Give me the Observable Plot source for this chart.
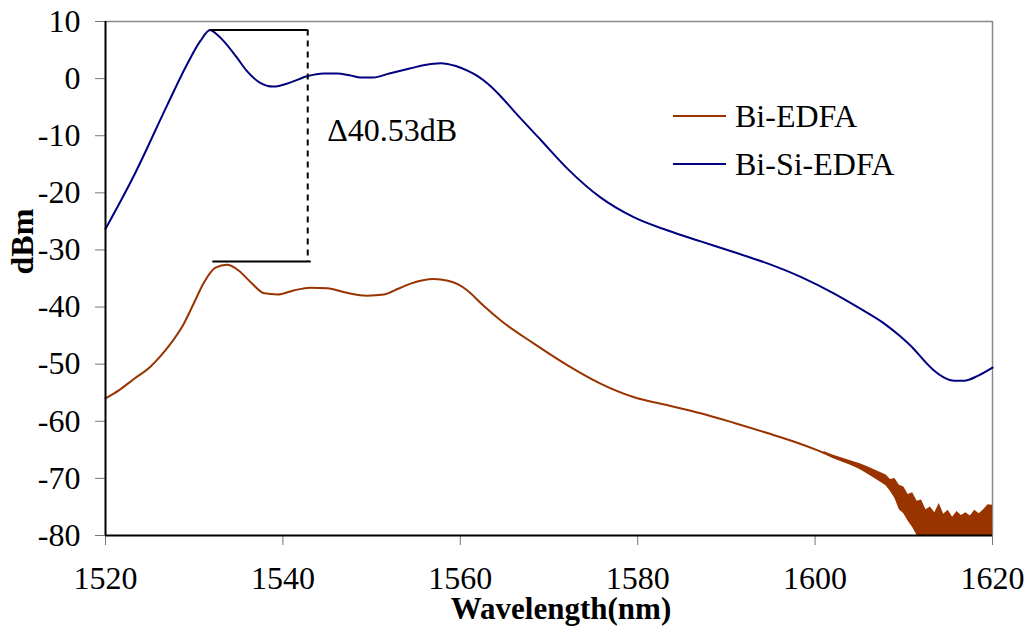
<!DOCTYPE html>
<html>
<head>
<meta charset="utf-8">
<script src="https://cdn.jsdelivr.net/npm/d3@7"></script>
<script src="https://cdn.jsdelivr.net/npm/@observablehq/plot@0.6"></script>
<style>
  body { margin: 0; background: #fff; }
  #wrap { position: relative; width: 1031px; height: 628px; font-family: "Liberation Serif", "DejaVu Serif", serif; }
  #wrap svg, #wrap svg text { font-family: "Liberation Serif", "DejaVu Serif", serif !important; }
  #legend { position: absolute; left: 673px; top: 92px; }
  .row { display: flex; align-items: center; height: 48px; }
  .swatch { width: 53px; height: 0; border-top: 2px solid; }
  .label { margin-left: 9px; font-size: 32px; color: #000; line-height: 1; font-family: "Liberation Serif", "DejaVu Serif", serif; }
</style>
</head>
<body>
<div id="wrap"><div id="legend"></div></div>
<script>
// Axis ticks
const wavelengthTicks = [1520, 1540, 1560, 1580, 1600, 1620];
const dbmTicks = [-80, -70, -60, -50, -40, -30, -20, -10, 0, 10];

// Series
const seriesNames = ["Bi-EDFA", "Bi-Si-EDFA"];
const seriesColors = ["#993300", "#000080"];

// Bi-Si-EDFA spectrum
const biSiWl = [1520, 1523.2, 1527.0, 1529.2, 1530.7, 1531.8, 1532.5, 1533.3, 1534.8, 1535.9, 1537.4, 1538.9, 1540.8, 1542.7, 1544.6, 1546.1, 1547.5, 1548.8, 1550.2, 1552.0, 1554.4, 1556.0, 1557.8, 1559.5, 1560.8, 1562.0, 1563.1, 1564.5, 1566.0, 1569.1, 1572.1, 1575.8, 1579.6, 1583.4, 1587.1, 1590.9, 1594.7, 1598.5, 1602.1, 1605.0, 1607.8, 1609.5, 1611.1, 1612.3, 1613.4, 1614.5, 1615.7, 1616.8, 1618.4, 1620];
const biSiDbm = [-26.3, -17.0, -4.5, 2.5, 6.6, 8.5, 7.8, 6.6, 3.7, 1.4, -0.7, -1.4, -0.7, 0.4, 0.9, 0.9, 0.6, 0.2, 0.2, 0.9, 1.8, 2.4, 2.7, 2.2, 1.4, 0.4, -0.9, -3.0, -5.6, -10.8, -15.8, -20.8, -24.3, -26.6, -28.5, -30.4, -32.4, -34.8, -37.6, -40.2, -42.9, -45.0, -47.3, -49.4, -51.1, -52.3, -52.9, -52.9, -52.0, -50.6];

// Bi-EDFA spectrum (smooth part)
const biWl = [1520, 1521.5, 1523.2, 1525.1, 1526.2, 1527.3, 1528.8, 1530.0, 1531.1, 1532.4, 1533.7, 1535.0, 1536.4, 1537.9, 1539.4, 1541.2, 1543.1, 1545.0, 1547.2, 1549.5, 1551.4, 1553.0, 1554.4, 1555.8, 1557.0, 1558.6, 1559.7, 1560.8, 1562.5, 1564.6, 1568.3, 1572.1, 1575.8, 1579.6, 1583.4, 1587.1, 1590.9, 1594.7, 1597.5, 1600.3, 1602, 1604, 1606, 1608];
const biDbm = [-56.0, -54.6, -52.6, -50.4, -48.6, -46.5, -43.0, -39.2, -35.7, -33.1, -32.6, -33.6, -35.7, -37.6, -37.8, -37.1, -36.6, -36.7, -37.5, -38.0, -37.8, -36.8, -35.9, -35.3, -35.1, -35.4, -36.0, -37.1, -39.6, -42.4, -46.4, -50.2, -53.4, -55.8, -57.2, -58.6, -60.3, -62.1, -63.5, -65.1, -66.2, -67.3, -68.7, -70.3];

// Bi-EDFA noise floor envelope at the long-wavelength end
const noiseWl = [1601, 1602, 1604, 1605, 1606, 1607, 1608, 1608.5, 1609, 1609.5, 1610, 1610.5, 1611, 1611.5, 1612, 1612.5, 1613, 1613.5, 1614, 1614.5, 1615, 1615.5, 1616, 1616.5, 1617, 1617.5, 1618, 1618.5, 1619, 1619.5, 1620];
const noiseHi = [-65.3, -65.9, -66.9, -67.4, -68.0, -68.7, -69.4, -70.2, -70.0, -71.2, -71.5, -72.8, -72.5, -74.0, -73.8, -75.5, -75.0, -76.0, -74.4, -76.3, -75.6, -76.8, -75.8, -76.5, -76.0, -76.6, -75.6, -76.2, -75.5, -74.6, -74.7];
const noiseLo = [-65.7, -66.5, -67.7, -68.4, -69.3, -70.3, -71.3, -72.3, -73.5, -75.5, -76.2, -77.5, -78.6, -80, -80, -80, -80, -80, -80, -80, -80, -80, -80, -80, -80, -80, -80, -80, -80, -80, -80];

// Gain difference annotation
const peakLevel = 8.5;
const gainDelta = 40.53;
const topSpan = [1531.8, 1542.8];
const bottomSpan = [1532.1, 1543.2];
const dashX = 1542.8;
const deltaLabelAt = [1545, -9.1];

const biSi = biSiWl.map((w, i) => ({w, v: biSiDbm[i]}));
const bi = biWl.map((w, i) => ({w, v: biDbm[i]}));
const noise = noiseWl.map((w, i) => ({w, hi: noiseHi[i], lo: noiseLo[i]}));
const bottomLevel = peakLevel - gainDelta;

const serif = '"Liberation Serif", "DejaVu Serif", serif';
const fmt = d => String(d);

const chart = Plot.plot({
  width: 1031,
  height: 628,
  marginLeft: 105,
  marginRight: 39,
  marginTop: 21,
  marginBottom: 93,
  style: {fontFamily: serif, fontSize: "32px", background: "#fff", color: "#000"},
  x: {domain: [1520, 1620], ticks: wavelengthTicks},
  y: {domain: [-80, 10], ticks: dbmTicks},
  marks: [
    Plot.axisX(wavelengthTicks, {tickSize: 10, tickPadding: 21, tickFormat: fmt, stroke: "#777", fill: "#000", fontSize: 32, fontFamily: serif, label: null}),
    Plot.axisY(dbmTicks, {tickSize: 10, tickPadding: 15, tickFormat: fmt, stroke: "#777", fill: "#000", fontSize: 32, fontFamily: serif, label: null}),
    Plot.ruleY([10], {stroke: "#888", strokeWidth: 1.5}),
    Plot.ruleX([1620], {stroke: "#888", strokeWidth: 1.5}),
    Plot.areaY(noise, {x: "w", y1: "lo", y2: "hi", fill: seriesColors[0]}),
    Plot.line(bi, {x: "w", y: "v", stroke: seriesColors[0], strokeWidth: 2, curve: "monotone-x"}),
    Plot.line(biSi, {x: "w", y: "v", stroke: seriesColors[1], strokeWidth: 2, curve: "monotone-x"}),
    Plot.ruleY([peakLevel], {x1: topSpan[0], x2: topSpan[1], stroke: "#000", strokeWidth: 2}),
    Plot.ruleY([bottomLevel], {x1: bottomSpan[0], x2: bottomSpan[1], stroke: "#000", strokeWidth: 2}),
    Plot.ruleX([dashX], {y1: peakLevel, y2: bottomLevel, stroke: "#000", strokeWidth: 2, strokeDasharray: "6,5"}),
    Plot.text([`Δ${gainDelta.toFixed(2)}dB`], {x: deltaLabelAt[0], y: deltaLabelAt[1], text: d => d, textAnchor: "start", fontSize: 32, fontFamily: serif, fill: "#000"}),
    Plot.ruleX([1520], {stroke: "#000", strokeWidth: 2}),
    Plot.ruleY([-80], {stroke: "#000", strokeWidth: 2}),
    Plot.text(["Wavelength(nm)"], {frameAnchor: "bottom", dx: 12, dy: 83, text: d => d, fontSize: 31, fontWeight: "bold", fontFamily: serif, fill: "#000"}),
    Plot.text(["dBm"], {frameAnchor: "left", dx: -83, dy: -4, rotate: -90, text: d => d, fontSize: 32, fontWeight: "bold", fontFamily: serif, fill: "#000"})
  ]
});

const wrap = document.getElementById("wrap");
wrap.insertBefore(chart, wrap.firstChild);

const legend = d3.select("#legend");
seriesNames.forEach((name, i) => {
  const row = legend.append("div").attr("class", "row");
  row.append("div").attr("class", "swatch").style("border-top-color", seriesColors[i]);
  row.append("div").attr("class", "label").text(name);
});
</script>
</body>
</html>
